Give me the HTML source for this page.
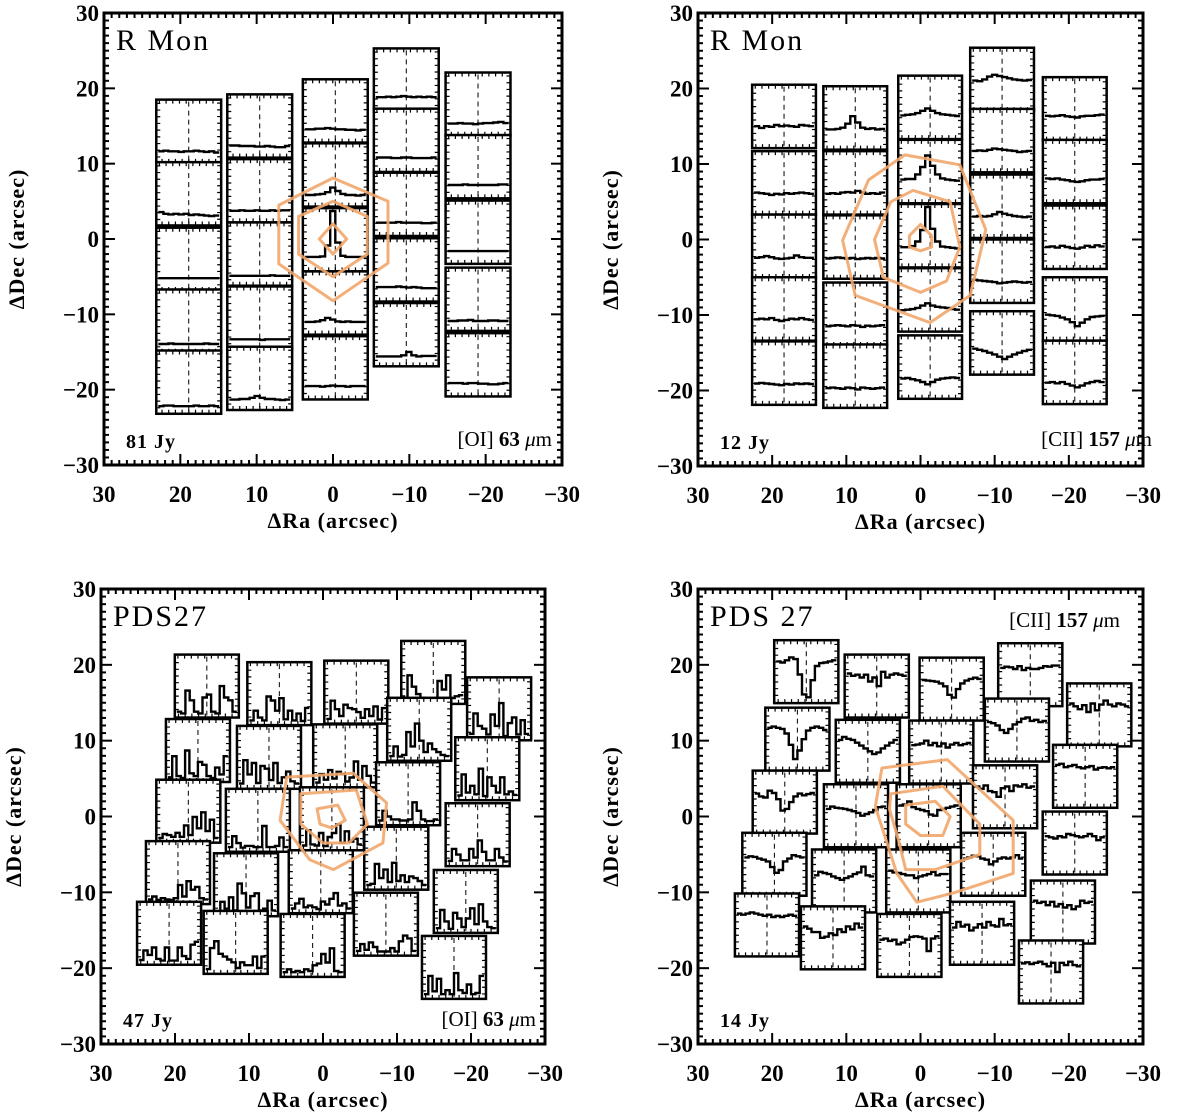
<!DOCTYPE html>
<html><head><meta charset="utf-8"><style>
html,body{margin:0;padding:0;background:#fff;}
svg{display:block;}
text{font-family:"Liberation Serif",serif;fill:#000;}
</style></head><body>
<svg id="fig" width="1200" height="1116" viewBox="0 0 1200 1116" xmlns="http://www.w3.org/2000/svg"></svg>
<script>
// ===== Panel A: R Mon [OI] 63 =====
const aRa  = [18.9,18.9,18.9,18.9,18.9, 9.6,9.6,9.6,9.6,9.6, -0.3,-0.3,-0.3,-0.3,-0.3, -9.6,-9.6,-9.6,-9.6,-9.6, -19,-19,-19,-19,-19];
const aDec = [14.3,6.0,-2.7,-10.9,-19.0, 15.0,6.4,-2.0,-10.5,-18.5, 17.0,8.5,-0.1,-8.5,-17.1, 21.1,13.1,4.6,-4.1,-12.7, 17.9,9.6,0.9,-8.0,-16.7];
const aSpec = [
[15,16,15,15,14,15,15,16,15,14,15,13],[18,15,14,15,14,15,13,14,13,12,11,12],[17,17,17,17,17,17,17,17,17,17,17,17],[10,10,11,10,10,10,10,10,10,11,10,10],[8,9,9,8,8,8,8,9,8,8,9,8],
[16,16,15,15,15,14,14,15,14,13,13,15],[15,15,16,15,15,16,15,15,16,15,16,16],[12,12,12,12,12,12,12,12,13,12,12,12],[13,13,13,13,13,13,12,13,13,13,13,13],[13,13,14,14,16,19,16,14,14,13,12,13],
[18,18,19,19,20,19,18,18,17,17,16,17],[15,15,16,17,20,28,22,17,15,15,14,15],[20,20,20,21,40,100,45,22,20,20,20,20],[17,17,18,20,24,21,18,17,18,17,17,17],[18,18,18,17,18,19,18,18,17,18,18,18],
[20,20,21,20,21,22,21,20,21,20,21,20],[20,20,20,19,19,20,20,19,19,19,19,20],[18,18,18,18,19,18,18,18,18,17,17,18],[20,20,20,20,21,20,19,20,19,18,18,18],[12,12,12,12,12,14,20,14,12,13,13,13],
[16,16,17,16,16,15,16,17,17,18,19,17],[18,18,18,19,18,18,18,18,18,18,19,19],[17,17,17,17,17,17,17,17,17,17,17,17],[12,12,13,13,14,12,12,12,13,13,12,12],[18,18,18,17,18,18,17,17,16,16,17,18]];
const aContRa  = [[0,-7.2,-7.2,0,7.1,7.1],[0,-4.5,-4.5,0,4.5,4.5],[0,-1.8,0,1.8]];
const aContDec = [[8.1,5,-3.2,-8.2,-3.3,4.5],[5,3,-2,-5,-2,3],[2,0,-2,0]];

// ===== Panel B: R Mon [CII] 157 =====
const bRa  = [18.4,18.4,18.4,18.4,18.4, 8.8,8.8,8.8,8.8,8.8, -1.3,-1.3,-1.3,-1.3,-1.3, -11,-11,-11,-11,-11, -20.8,-20.8,-20.8,-20.8,-20.8];
const bDec = [16.3,7.5,-0.9,-9.2,-17.7, 16.1,7.5,-1.0,-9.9,-18.1, 17.5,9.0,0.5,-8.0,-16.9, 21.2,13.1,4.4,-4.2,-13.7, 17.3,9.0,0.3,-9.2,-17.6];
const bSpec = [
[33,30,33,32,35,33,34,33,32,35,34,33],[33,32,31,29,31,30,32,31,32,33,32,31],[30,31,33,31,29,28,29,30,34,31,30,30],[32,33,32,34,31,29,31,33,32,34,32,31],[32,33,32,31,30,29,31,30,32,31,32,31],
[30,30,31,33,40,53,42,33,31,32,30,31],[31,32,31,33,34,33,36,33,31,32,31,33],[30,31,32,31,30,31,29,30,31,30,31,30],[29,30,31,30,29,31,30,28,30,29,30,31],[29,30,29,28,30,29,27,30,29,28,29,30],
[36,37,38,40,44,48,44,40,38,37,36,35],[36,37,37,45,58,78,60,45,38,36,35,34],[30,30,32,40,60,100,62,40,31,30,29,28],[32,33,34,36,40,44,40,38,37,36,34,33],[30,31,29,27,24,20,24,28,30,31,32,31],
[48,47,50,55,58,56,54,52,50,49,48,49],[32,33,32,34,36,35,34,33,32,30,31,32],[32,33,32,33,36,40,37,35,33,32,31,32],[35,34,33,32,31,29,30,31,32,31,30,31],[40,38,36,33,30,26,22,26,30,33,36,38],
[38,37,38,39,37,36,35,37,38,38,39,40],[38,37,38,36,35,33,32,33,35,36,36,37],[33,34,32,35,33,31,30,32,35,33,36,34],[40,39,38,35,32,27,20,26,32,36,37,38],[32,33,31,33,30,27,24,27,31,33,35,33]];
const bContRa  = [[2.1,-5.3,-8.8,-6.7,-1.3,8.8,10.5,7.0],[1,-4,-5.3,-3.5,0,5,6.2,4],[0,-1.5,-1.5,0,1.5,1.5]];
const bContDec = [[11.2,9.9,1.3,-7.4,-11.0,-7.4,-0.1,7.9],[6.5,5,-1,-5.5,-7,-5,0,5],[2,0.5,-1,-1.5,-1,0.5]];

// ===== Panel C: PDS27 [OI] 63 =====
const cRa  = [15.7,5.9,-4.5,-14.9,-23.8, 16.9,7.3,-3.0,-13.0,-22.2, 18.2,8.8,-1.2,-11.5,-20.9, 19.6,10.4,0.3,-9.9,-19.3, 20.8,11.8,1.4,-8.5,-17.7];
const cDec = [17.2,16.2,16.4,19.0,14.2, 8.7,7.8,8.0,11.5,6.3, 0.7,-0.5,-0.3,3.0,-2.4, -7.4,-9.0,-8.6,-5.5,-11.2, -15.4,-16.6,-17.0,-14.2,-19.9];
const cSpec = [
[5,2,42,25,5,2,30,35,5,2,50,30,25,5],[3,20,8,3,45,38,20,42,5,20,3,15,2,25],[3,35,20,8,28,22,20,15,5,20,8,25,2,22],[5,45,25,12,5,2,4,2,35,20,45,5,8,10],[6,42,20,15,5,40,20,60,2,25,35,5,30,6],
[3,40,5,2,50,10,5,30,25,5,2,20,8,40],[4,45,20,40,5,35,30,10,40,5,15,25,8,4],[3,18,8,25,10,22,18,5,12,40,8,32,15,3],[3,20,2,5,45,20,60,30,10,25,15,10,5,3],[3,40,8,20,5,50,2,35,20,8,35,5,10,4],
[3,10,8,5,12,5,25,8,40,20,48,15,35,3],[3,22,10,2,5,5,3,3,40,3,3,5,20,3],[3,30,5,3,25,2,18,25,40,8,28,10,15,5],[3,20,10,5,5,3,3,5,35,20,5,2,2,5],[4,25,15,5,5,25,10,40,20,5,5,25,10,3],
[3,8,2,5,3,2,5,28,8,35,20,25,5,3],[3,20,8,28,5,52,35,10,30,35,5,8,22,5],[3,12,20,5,8,5,2,15,10,20,30,8,12,3],[3,5,40,15,30,8,42,10,20,8,18,15,10,3],[3,35,15,2,30,20,5,20,38,10,45,15,5,3],
[3,20,12,25,5,2,25,2,2,25,10,5,30,35],[3,40,52,30,25,20,15,5,15,10,10,25,5,25],[3,8,3,5,3,8,5,15,18,35,20,45,5,3],[3,15,5,18,10,2,2,2,8,2,20,30,25,3],[3,35,8,30,3,10,3,40,10,5,20,3,5,35]];
const cContRa  = [[4.9,-4.1,-8.6,-8.1,-1.4,1.8,5.8],[3,-4.5,-6,-3.5,0,3],[0.8,-2,-3,-1.2,0.4]];
const cContDec = [[5.2,5.7,1.8,-3.5,-7.0,-5.7,-0.5],[3,3.5,-1,-3.5,-3.5,-1],[1,1.5,-0.5,-1.5,-1]];

// ===== Panel D: PDS 27 [CII] 157 =====
const dRa  = [15.4,5.9,-4.2,-14.8,-24.1, 16.6,7.1,-2.8,-13.0,-22.2, 18.3,8.7,-1.1,-11.4,-20.8, 19.7,10.3,0.3,-9.8,-19.2, 20.7,11.8,1.5,-8.3,-17.6];
const dDec = [19.1,17.2,16.8,18.7,13.4, 10.2,8.6,8.5,11.4,5.3, 1.9,0.1,0.1,2.6,-3.5, -6.3,-8.5,-8.5,-6.3,-12.6, -14.3,-16.0,-17.0,-15.4,-20.5];
const dSpec = [
[68,66,70,75,72,45,10,5,35,60,65,66,68,70],[72,68,70,65,70,58,65,50,75,65,70,72,70,68],[66,65,64,63,60,55,40,35,50,60,65,68,70,68],[62,64,63,60,65,58,62,60,60,62,65,64,66,66],[70,65,60,67,55,70,58,68,75,68,65,70,68,65],
[70,72,70,68,60,40,15,30,50,65,70,72,70,66],[70,75,72,70,65,60,55,50,45,48,55,60,65,70],[62,63,65,70,62,66,60,65,58,63,66,62,64,66],[64,62,58,50,45,52,60,64,70,72,66,68,64,66],[70,72,66,68,70,66,64,66,68,62,65,66,64,66],
[65,60,58,70,66,55,35,38,50,60,65,62,64,66],[62,66,64,63,62,60,58,55,50,53,56,60,65,66],[68,70,75,65,62,60,58,52,50,60,62,64,66,68],[68,64,70,60,58,50,65,68,60,70,68,72,66,68],[62,60,58,62,60,66,64,62,60,62,66,62,55,60],
[62,64,63,60,58,55,45,35,40,55,60,66,64,62],[60,66,64,62,58,55,52,55,58,62,65,75,60,58],[68,65,64,62,60,60,55,58,60,62,66,60,62,62],[60,62,65,64,60,58,50,55,60,62,60,62,66,60],[70,66,68,62,68,60,64,58,62,55,60,70,66,68],
[70,68,70,72,70,68,66,68,64,66,64,66,68,66],[70,66,60,60,50,52,58,55,65,60,70,65,75,68],[60,62,58,60,52,55,60,65,66,65,62,40,62,66],[60,70,62,65,55,60,66,60,70,64,62,75,64,66],[65,67,64,66,68,64,60,66,50,66,62,68,62,60]];
const dContRa  = [[5.2,-3.6,-12.5,-12.5,-4.4,0.5,3.2,6.1],[4,-3,-8,-8,-2,2,3,4.2],[2,-2,-4,-3,0,2]];
const dContDec = [[6.4,7.5,-0.5,-7.5,-10.1,-11.3,-7.5,1.3],[3,4,-1,-5,-7,-7,-3,1],[1.5,2,0,-2.5,-2.5,-1]];

const NS = "http://www.w3.org/2000/svg";
const svg = document.getElementById('fig');
function mk(tag, attrs, parent){ const e=document.createElementNS(NS,tag); for(const k in attrs) e.setAttribute(k,attrs[k]); (parent||svg).appendChild(e); return e; }

function panel(cfg){
  const g = mk('g',{});
  
  
  const X = ra => cfg.x0 + (30 - ra) / 60 * (cfg.x1 - cfg.x0);
  const Y = dec => cfg.y0 + (30 - dec) / 60 * (cfg.y1 - cfg.y0);
  const sx = (cfg.x1 - cfg.x0) / 60, sy = (cfg.y1 - cfg.y0) / 60;
  for (let i = 0; i < cfg.ra.length; i++) {
    const bw = cfg.bw * sx, bh = cfg.bh * sy;
    const bx = X(cfg.ra[i]) - bw / 2, by = Y(cfg.dec[i]) - bh / 2;
    const bg = mk('g',{}, g);
    
    
    mk('rect',{x:bx,y:by,width:bw,height:bh,fill:'#fff',stroke:'none'},bg);
    mk('rect',{x:bx+2.5,y:by+2.5,width:bw-5,height:bh-5,fill:'none',stroke:'#000','stroke-width':3,'stroke-dasharray':'1.2,5.5'},bg);
    mk('line',{x1:bx+bw/2,y1:by+2,x2:bx+bw/2,y2:by+bh-2,stroke:'#000','stroke-width':1,'stroke-dasharray':'5,4'},bg);
    const v = cfg.spec[i], n = v.length, dx = (bw - 4) / n;
    let d = '';
    for (let k = 0; k < n; k++) {
      const yy = by + bh - 3 - v[k] / 100 * (bh - 6);
      const xa = bx + 2 + k * dx;
      d += (k === 0 ? 'M' : 'L') + xa.toFixed(1) + ' ' + yy.toFixed(1) + ' L' + (xa + dx).toFixed(1) + ' ' + yy.toFixed(1) + ' ';
    }
    const sp = mk('path',{d:d,fill:'none',stroke:'#000','stroke-width':2.4},bg);
    
    
    mk('rect',{x:bx,y:by,width:bw,height:bh,fill:'none',stroke:'#000','stroke-width':2.5},bg);
  }
  for (let c = 0; c < cfg.cra.length; c++) {
    const pts = cfg.cra[c].map((r, k) => X(r).toFixed(1) + ',' + Y(cfg.cdec[c][k]).toFixed(1)).join(' ');
    const p = mk('polygon',{points:pts,fill:'none',stroke:'#f2a66a','stroke-width':3,'stroke-linejoin':'round',opacity:0.9},g);
    
    
  }
  const fr = mk('rect',{x:cfg.x0,y:cfg.y0,width:cfg.x1-cfg.x0,height:cfg.y1-cfg.y0,fill:'none',stroke:'#000','stroke-width':3},g);
  
  
  for (let t = -30; t <= 30; t++) {
    const major = t % 10 === 0, L = major ? 11 : 5;
    const x = X(t), y = Y(t);
    mk('line',{x1:x,y1:cfg.y1,x2:x,y2:cfg.y1-L,stroke:'#000','stroke-width':2},g);
    mk('line',{x1:x,y1:cfg.y0,x2:x,y2:cfg.y0+L,stroke:'#000','stroke-width':2},g);
    mk('line',{x1:cfg.x0,y1:y,x2:cfg.x0+L,y2:y,stroke:'#000','stroke-width':2},g);
    mk('line',{x1:cfg.x1,y1:y,x2:cfg.x1-L,y2:y,stroke:'#000','stroke-width':2},g);
    if (major) {
      const lab = t < 0 ? '\u2212' + (-t) : '' + t;
      const tx = mk('text',{x:x,y:cfg.y1+37,'text-anchor':'middle','font-size':23,'font-weight':'bold'},g);
      tx.textContent = lab;
      
      
      const ty = mk('text',{x:cfg.x0-5,y:y+8,'text-anchor':'end','font-size':23,'font-weight':'bold'},g);
      ty.textContent = lab;
      
      
    }
  }
  const xt = mk('text',{x:(cfg.x0+cfg.x1)/2,y:cfg.y1+63,'text-anchor':'middle','font-size':22,'font-weight':'bold','letter-spacing':1},g);
  xt.textContent = '\u0394Ra (arcsec)';
  
  
  const yc = (cfg.y0+cfg.y1)/2, yx = cfg.x0 - 80;
  const yt = mk('text',{x:yx,y:yc,'text-anchor':'middle','font-size':22,'font-weight':'bold','letter-spacing':1,transform:'rotate(-90 '+yx+' '+yc+')'},g);
  yt.textContent = '\u0394Dec (arcsec)';
  
  
  const ti = mk('text',{x:cfg.x0+12,y:cfg.y0+37,'font-size':30,'letter-spacing':2},g);
  ti.textContent = cfg.title;
  
  
  const jy = mk('text',{x:cfg.x0+22,y:cfg.y1-17,'font-size':20,'font-weight':'bold','letter-spacing':1},g);
  jy.textContent = cfg.jy;
  
  
  const ln = mk('text',{x:cfg.lx,y:cfg.ly,'text-anchor':'end','font-size':21,'font-family':'Liberation Sans, sans-serif'},g);
  ln.innerHTML = cfg.line;
  
  
}

panel({name:'panel-rmon-oi',x0:104,x1:562,y0:13,y1:465,ra:aRa,dec:aDec,spec:aSpec,cra:aContRa,cdec:aContDec,bw:8.5,bh:8.4,title:'R Mon',jy:'81 Jy',line:'[OI] <tspan font-weight="bold" font-family="Liberation Serif, serif">63</tspan> <tspan font-style="italic">\u03bc</tspan>m',lx:552,ly:446});
panel({name:'panel-rmon-cii',x0:698,x1:1143,y0:13,y1:466,ra:bRa,dec:bDec,spec:bSpec,cra:bContRa,cdec:bContDec,bw:8.6,bh:8.4,title:'R Mon',jy:'12 Jy',line:'[CII] <tspan font-weight="bold" font-family="Liberation Serif, serif">157</tspan> <tspan font-style="italic">\u03bc</tspan>m',lx:1152,ly:446});
panel({name:'panel-pds27-oi',x0:101,x1:545,y0:589,y1:1044,ra:cRa,dec:cDec,spec:cSpec,cra:cContRa,cdec:cContDec,bw:8.65,bh:8.3,title:'PDS27',jy:'47 Jy',line:'[OI] <tspan font-weight="bold" font-family="Liberation Serif, serif">63</tspan> <tspan font-style="italic">\u03bc</tspan>m',lx:536,ly:1026});
panel({name:'panel-pds27-cii',x0:698,x1:1143,y0:589,y1:1044,ra:dRa,dec:dDec,spec:dSpec,cra:dContRa,cdec:dContDec,bw:8.65,bh:8.3,title:'PDS 27',jy:'14 Jy',line:'[CII] <tspan font-weight="bold" font-family="Liberation Serif, serif">157</tspan> <tspan font-style="italic">\u03bc</tspan>m',lx:1120,ly:627});
</script>
</body></html>
